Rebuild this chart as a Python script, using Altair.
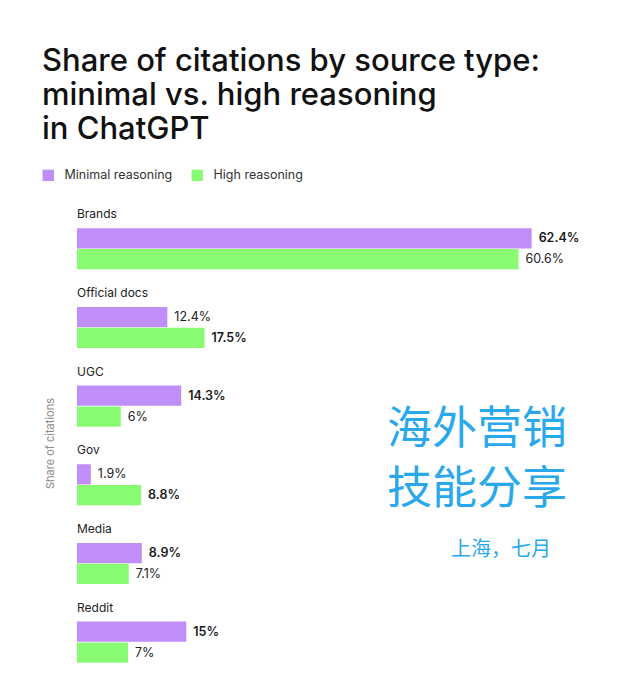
import altair as alt
import pandas as pd

categories = ["Brands", "Official docs", "UGC", "Gov", "Media", "Reddit"]
series_names = ["Minimal reasoning", "High reasoning"]
minimal = [62.4, 12.4, 14.3, 1.9, 8.9, 15.0]
high = [60.6, 17.5, 6.0, 8.8, 7.1, 7.0]
minimal_labels = ["62.4%", "12.4%", "14.3%", "1.9%", "8.9%", "15%"]
high_labels = ["60.6%", "17.5%", "6%", "8.8%", "7.1%", "7%"]
watermark_lines = ["海外营销", "技能分享", "上海，七月"]

rows = []
for i, c in enumerate(categories):
    m, h = minimal[i], high[i]
    rows.append({"category": c, "series": series_names[0], "value": m,
                 "label": minimal_labels[i], "bold": m >= h})
    rows.append({"category": c, "series": series_names[1], "value": h,
                 "label": high_labels[i], "bold": h > m})
df = pd.DataFrame(rows)
cat_df = pd.DataFrame({"category": categories})

FONT = "Inter"
PURPLE = "#C08EF8"
GREEN = "#88FB72"
BLUE = "#29A8EC"

y_enc = alt.Y("category:N", sort=categories,
              scale=alt.Scale(paddingInner=0, paddingOuter=0),
              axis=alt.Axis(title="Share of citations", labels=False, ticks=False,
                            domain=False, grid=False, titleFontSize=11,
                            titleColor="#8a8a8a", titleFont=FONT,
                            titleFontWeight="normal", titlePadding=22))
x_enc = alt.X("value:Q", scale=alt.Scale(domain=[0, 70]), axis=None)
yoff = alt.YOffset("series:N", sort=series_names,
                   scale=alt.Scale(paddingInner=0.03, paddingOuter=0.9, align=0.565))

bars = alt.Chart(df).mark_bar(cornerRadius=0).encode(
    x=x_enc,
    y=y_enc,
    yOffset=yoff,
    color=alt.Color("series:N", sort=series_names,
                    scale=alt.Scale(domain=series_names, range=[PURPLE, GREEN]),
                    legend=alt.Legend(title=None, orient="none", legendX=-35, legendY=-38,
                                      direction="horizontal", symbolType="square",
                                      symbolSize=130, symbolStrokeWidth=0,
                                      labelFont=FONT, labelFontSize=12.5,
                                      labelColor="#333333", columnPadding=18,
                                      labelOffset=10, padding=0)),
)

label_base = alt.Chart(df).encode(
    x=x_enc,
    y=y_enc,
    yOffset=yoff,
    text="label:N",
)
labels_bold = label_base.transform_filter("datum.bold").mark_text(
    align="left", baseline="middle", dx=7, font=FONT, fontSize=12.5,
    fontWeight=600, color="#1a1a1a")
labels_norm = label_base.transform_filter("!datum.bold").mark_text(
    align="left", baseline="middle", dx=7, font=FONT, fontSize=12.5,
    fontWeight="normal", color="#222222")

cat_labels = alt.Chart(cat_df).mark_text(
    align="left", baseline="middle", dy=-32, font=FONT, fontSize=12,
    color="#222222").encode(
    x=alt.value(0),
    y=y_enc,
    text="category:N",
)

wm1 = alt.Chart(pd.DataFrame({"t": [watermark_lines[0]]})).mark_text(
    font="Noto Sans CJK SC", fontSize=45, color=BLUE, align="center",
    baseline="middle").encode(x=alt.value(400), y=alt.value(223), text="t:N")
wm2 = alt.Chart(pd.DataFrame({"t": [watermark_lines[1]]})).mark_text(
    font="Noto Sans CJK SC", fontSize=45, color=BLUE, align="center",
    baseline="middle").encode(x=alt.value(400), y=alt.value(283), text="t:N")
wm3 = alt.Chart(pd.DataFrame({"t": [watermark_lines[2]]})).mark_text(
    font="Noto Sans CJK SC", fontSize=20, color=BLUE, align="center",
    baseline="middle").encode(x=alt.value(424), y=alt.value(343), text="t:N")

chart = alt.layer(bars, labels_bold, labels_norm, cat_labels, wm1, wm2, wm3).properties(
    width=510,
    height=472,
    padding={"left": 34, "top": 38, "right": 5, "bottom": 5},
    title=alt.TitleParams(
        text=["Share of citations by source type:", "minimal vs. high reasoning",
              "in ChatGPT"],
        anchor="start", frame="bounds", font=FONT, fontSize=31, fontWeight=500,
        color="#111111", lineHeight=34, offset=23,
    ),
).configure(background="white", view=alt.ViewConfig(stroke=None))

chart.save("out.html", embed_options={"renderer": "svg", "actions": False})
